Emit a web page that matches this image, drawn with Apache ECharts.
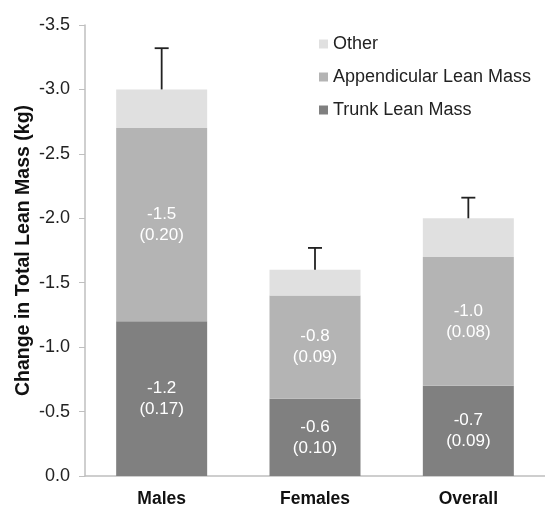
<!DOCTYPE html>
<html><head><meta charset="utf-8">
<script src="https://cdn.jsdelivr.net/npm/echarts@6/dist/echarts.min.js"></script>
<style>html,body{margin:0;padding:0;background:#fff}#c{width:545px;height:508px}</style>
</head><body><div id="c"></div>
<script>
var categories = ['Males', 'Females', 'Overall'];
var trunk = [-1.2, -0.6, -0.7];
var trunkSE = ['0.17', '0.10', '0.09'];
var appendicular = [-1.5, -0.8, -1.0];
var appendicularSE = ['0.20', '0.09', '0.08'];
var other = [-0.3, -0.2, -0.3];
var errorTop = [-3.32, -1.77, -2.16];
var yTicks = [0, -0.5, -1.0, -1.5, -2.0, -2.5, -3.0, -3.5];

var chart = echarts.init(document.getElementById('c'));
var font = 'Arial, "Liberation Sans", sans-serif';
function lbl(vals, se) {
  return {
    show: true, position: 'inside', color: '#fff', fontSize: 17, fontFamily: font, lineHeight: 21,
    formatter: function (p) { return vals[p.dataIndex].toFixed(1) + '\n(' + se[p.dataIndex] + ')'; }
  };
}
var totals = categories.map(function (c, i) { return trunk[i] + appendicular[i] + other[i]; });
chart.setOption({
  animation: false,
  grid: { left: 85, right: -11, top: 25, bottom: 30 },
  legend: {
    orient: 'vertical', left: 314, top: 30, itemGap: 15, itemWidth: 9, itemHeight: 9,
    icon: 'rect', textStyle: { fontSize: 18, fontFamily: font, color: '#222' },
    data: ['Other', 'Appendicular Lean Mass', 'Trunk Lean Mass']
  },
  xAxis: {
    type: 'category', data: categories,
    axisLine: { lineStyle: { color: '#bfbfbf', width: 1.5 } },
    axisTick: { show: false },
    axisLabel: { fontSize: 17.5, fontWeight: 'bold', color: '#111', fontFamily: font, margin: 14 }
  },
  yAxis: {
    type: 'value', inverse: true, min: -3.5, max: 0, interval: 0.5,
    name: 'Change in Total Lean Mass (kg)', nameLocation: 'middle', nameGap: 51, nameMoveOverlap: false,
    nameTextStyle: { fontSize: 19.5, fontWeight: 'bold', color: '#111', fontFamily: font },
    axisLine: { show: true, lineStyle: { color: '#bfbfbf', width: 1.5 } },
    axisTick: { show: true, length: 6, lineStyle: { color: '#bfbfbf' } },
    splitLine: { show: false },
    axisLabel: { fontSize: 18, color: '#222', fontFamily: font, margin: 15,
      formatter: function (v) { return (Math.abs(v) < 1e-9 ? 0 : v).toFixed(1); } }
  },
  series: [
    { name: 'Trunk Lean Mass', type: 'bar', stack: 's', data: trunk, barWidth: 91,
      itemStyle: { color: '#808080' }, label: lbl(trunk, trunkSE) },
    { name: 'Appendicular Lean Mass', type: 'bar', stack: 's', data: appendicular,
      itemStyle: { color: '#b4b4b4' }, label: lbl(appendicular, appendicularSE) },
    { name: 'Other', type: 'bar', stack: 's', data: other,
      itemStyle: { color: '#e0e0e0' } },
    { name: 'err', type: 'custom', z: 5,
      data: categories.map(function (c, i) { return [i, totals[i], errorTop[i]]; }),
      renderItem: function (params, api) {
        var b = api.coord([api.value(0), api.value(1)]);
        var t = api.coord([api.value(0), api.value(2)]);
        var st = { stroke: '#222', lineWidth: 1.8 };
        return { type: 'group', children: [
          { type: 'line', shape: { x1: b[0], y1: b[1], x2: t[0], y2: t[1] }, style: st },
          { type: 'line', shape: { x1: t[0] - 7, y1: t[1], x2: t[0] + 7, y2: t[1] }, style: st }
        ] };
      }
    }
  ]
});
</script></body></html>
